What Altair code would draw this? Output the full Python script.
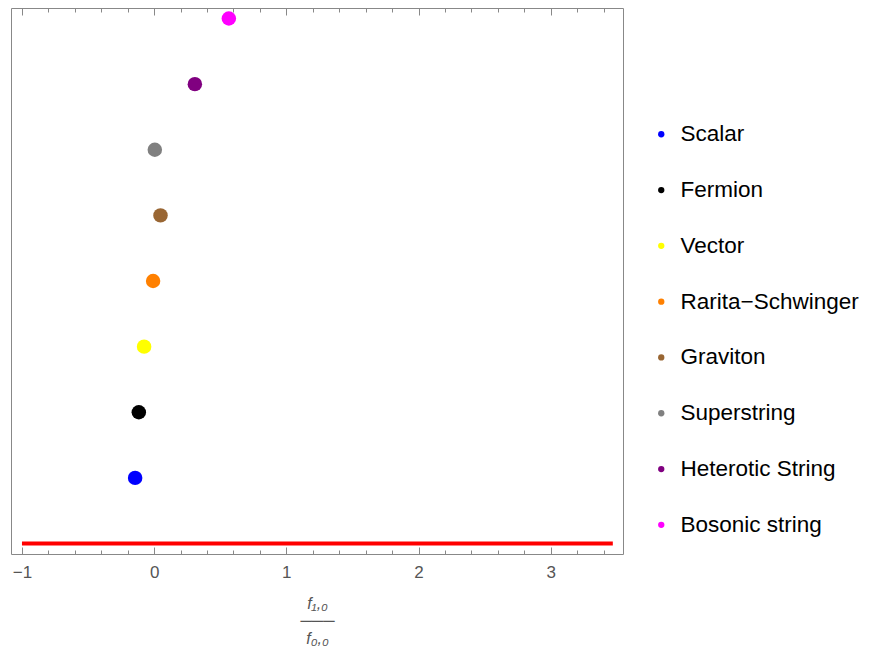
import altair as alt
import pandas as pd

# ---- data ----
names = ["Scalar", "Fermion", "Vector", "Rarita\u2212Schwinger", "Graviton",
         "Superstring", "Heterotic String", "Bosonic string"]
ratio = [-0.144, -0.116, -0.076, -0.008, 0.048, 0.005, 0.308, 0.565]
level = [1, 2, 3, 4, 5, 6, 7, 8]
colors = ["#0000FF", "#000000", "#FFFF00", "#FF8000", "#996633",
          "#808080", "#800080", "#FF00FF"]

line_x = [-1.0]
line_x2 = [3.47]
line_y = [0.0]

major_ticks = [-1, 0, 1, 2, 3]
minor_ticks = [round(-1 + 0.2 * i, 1) for i in range(23) if i % 5 != 0]

x_domain = [-1.083, 3.547]
y_domain = [-0.16, 8.16]

pts = pd.DataFrame({"name": names, "x": ratio, "y": level})
line = pd.DataFrame({"x": line_x, "x2": line_x2, "y": line_y})

FONT = "Liberation Sans"
xscale = alt.Scale(domain=x_domain, nice=False, zero=False)
yscale = alt.Scale(domain=y_domain, nice=False, zero=False)

axis_common = dict(grid=False, domain=False, tickColor="#888888", tickWidth=1)

points = alt.Chart(pts).mark_circle(size=210, opacity=1).encode(
    x=alt.X("x:Q", scale=xscale,
            axis=alt.Axis(values=major_ticks, orient="bottom", offset=-7,
                          tickSize=7, labelFontSize=17, labelFont=FONT,
                          labelColor="#555555", labelPadding=10,
                          title=["f\u2081,\u2080", "\u2500\u2500\u2500", "f\u2080,\u2080"],
                          titleFont=FONT, titleFontSize=16, titleFontStyle="italic",
                          titleFontWeight="normal", titleColor="#555555",
                          titleLineHeight=17.5, titlePadding=15,
                          **axis_common)),
    y=alt.Y("y:Q", scale=yscale, axis=None),
    color=alt.Color("name:N", sort=names,
                    scale=alt.Scale(domain=names, range=colors),
                    legend=alt.Legend(title=None, orient="none", legendX=639,
                                      legendY=115, symbolType="circle",
                                      symbolSize=40, symbolStrokeWidth=0,
                                      labelFont=FONT, labelFontSize=22.5,
                                      labelColor="#000000", labelOffset=8,
                                      labelLimit=0,
                                      rowPadding=32.8, padding=0)),
)

red = alt.Chart(line).mark_rule(color="#FF0000", strokeWidth=4).encode(
    x=alt.X("x:Q", scale=xscale,
            axis=alt.Axis(values=minor_ticks, orient="bottom", offset=-4,
                          tickSize=4, labels=False, title=None, **axis_common)),
    x2="x2:Q",
    y=alt.Y("y:Q", scale=yscale, axis=None),
)

top_major = alt.Chart(pts).mark_circle(opacity=0).encode(
    x=alt.X("x:Q", scale=xscale,
            axis=alt.Axis(values=major_ticks, orient="top", offset=-7,
                          tickSize=7, labels=False, title=None, **axis_common)),
    y=alt.Y("y:Q", scale=yscale, axis=None),
)

top_minor = alt.Chart(pts).mark_circle(opacity=0).encode(
    x=alt.X("x:Q", scale=xscale,
            axis=alt.Axis(values=minor_ticks, orient="top", offset=-4,
                          tickSize=4, labels=False, title=None, **axis_common)),
    y=alt.Y("y:Q", scale=yscale, axis=None),
)

chart = alt.layer(red, points, top_major, top_minor).resolve_axis(
    x="independent"
).properties(
    width=612, height=546,
    autosize=alt.AutoSizeParams(type="none"),
    padding={"left": 3, "top": 0, "right": 240, "bottom": 95},
).configure_view(
    stroke="#888888", strokeWidth=1
)

chart.save("out.html", embed_options={"renderer": "svg", "actions": False})
